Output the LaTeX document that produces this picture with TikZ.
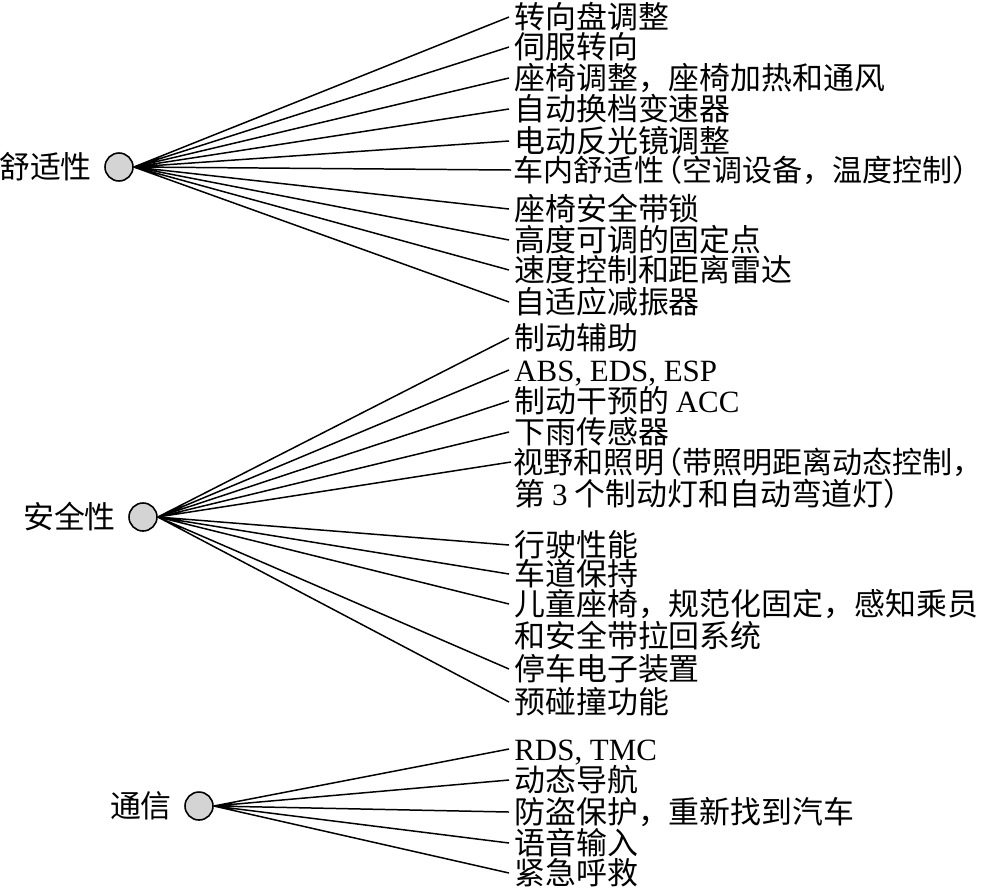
\documentclass[tikz,border=0pt]{standalone}
\usepackage{fontspec}
\setmainfont{Liberation Serif}
\newfontfamily\cjk{Noto Sans CJK SC}
\usetikzlibrary{positioning}
\newcommand{\lpar}{\kern-.4em（}
\newcommand{\rpar}{）}

\begin{document}
\begin{tikzpicture}[
    x=0.02cm, y=-0.02cm,
    hub/.style={circle, draw, line width=0.9pt, fill=black!17, minimum size=0.56cm, inner sep=0pt},
    item/.style={anchor=west, inner xsep=0.1cm, inner ysep=0pt, text height=13.5pt, text depth=0.5pt,
                 font=\cjk\fontsize{17.6}{17.6}\selectfont},
    long/.style={item, inner xsep=0.05cm, font=\cjk\fontsize{17.1}{17.1}\selectfont},
    group/.style={item, inner sep=0pt},
    link/.style={line width=0.85pt}
]
    \useasboundingbox (0,0) rectangle (990,890);

    % 舒适性
    \node[hub] (comf) at (119,167) {};
    \node[group, left=0.24cm of comf] (comf-l) {舒适性};
    \node[item] (comf1) at (509,17) {转向盘调整};
    \node[item] (comf2) at (509,47) {伺服转向};
    \node[item] (comf3) at (509,78) {座椅调整，座椅加热和通风};
    \node[item] (comf4) at (509,109) {自动换档变速器};
    \node[item] (comf5) at (509,141) {电动反光镜调整};
    \node[long] (comf6) at (511,170) {车内舒适性\lpar 空调设备，温度控制\rpar};
    \node[item] (comf7) at (509,209) {座椅安全带锁};
    \node[item] (comf8) at (509,240) {高度可调的固定点};
    \node[item] (comf9) at (509,270) {速度控制和距离雷达};
    \node[item] (comf10) at (509,302) {自适应减振器};
    \draw[link] (comf.east) -- (comf1.west) (comf.east) -- (comf2.west) (comf.east) -- (comf3.west);
    \draw[link] (comf.east) -- (comf4.west) (comf.east) -- (comf5.west) (comf.east) -- (comf6.west);
    \draw[link] (comf.east) -- (comf7.west) (comf.east) -- (comf8.west);
    \draw[link] (comf.east) -- (comf9.west) (comf.east) -- (comf10.west);

    % 安全性
    \node[hub] (safe) at (143,517) {};
    \node[group, left=0.24cm of safe] (safe-l) {安全性};
    \node[item] (safe1) at (509,338) {制动辅助};
    \node[item] (safe2) at (509,370) {{\rmfamily ABS, EDS, ESP}};
    \node[item] (safe3) at (509,401) {制动干预的 {\rmfamily ACC}};
    \node[item] (safe4) at (509,432) {下雨传感器};
    \node[long] (safe5) at (511,462) {视野和照明\lpar 带照明距离动态控制，};
    \node[item] (safe5b) at (509,494) {第 {\rmfamily 3} 个制动灯和自动弯道灯\rpar};
    \node[item] (safe6) at (509,545) {行驶性能};
    \node[item] (safe7) at (509,574) {车道保持};
    \node[item] (safe8) at (509,604) {儿童座椅，规范化固定，感知乘员};
    \node[item] (safe8b) at (509,636) {和安全带拉回系统};
    \node[item] (safe9) at (509,669) {停车电子装置};
    \node[item] (safe10) at (509,702) {预碰撞功能};
    \draw[link] (safe.east) -- (safe1.west) (safe.east) -- (safe2.west) (safe.east) -- (safe3.west);
    \draw[link] (safe.east) -- (safe4.west) (safe.east) -- (safe5.west);
    \draw[link] (safe.east) -- (safe6.west) (safe.east) -- (safe7.west) (safe.east) -- (safe8.west);
    \draw[link] (safe.east) -- (safe9.west) (safe.east) -- (safe10.west);

    % 通信
    \node[hub] (comm) at (199,806) {};
    \node[group, left=0.24cm of comm] (comm-l) {通信};
    \node[item] (comm1) at (509,749) {{\rmfamily RDS, TMC}};
    \node[item] (comm2) at (509,780) {动态导航};
    \node[item] (comm3) at (509,812) {防盗保护，重新找到汽车};
    \node[item] (comm4) at (509,843) {语音输入};
    \node[item] (comm5) at (509,873) {紧急呼救};
    \draw[link] (comm.east) -- (comm1.west) (comm.east) -- (comm2.west) (comm.east) -- (comm3.west);
    \draw[link] (comm.east) -- (comm4.west) (comm.east) -- (comm5.west);
\end{tikzpicture}
\end{document}
